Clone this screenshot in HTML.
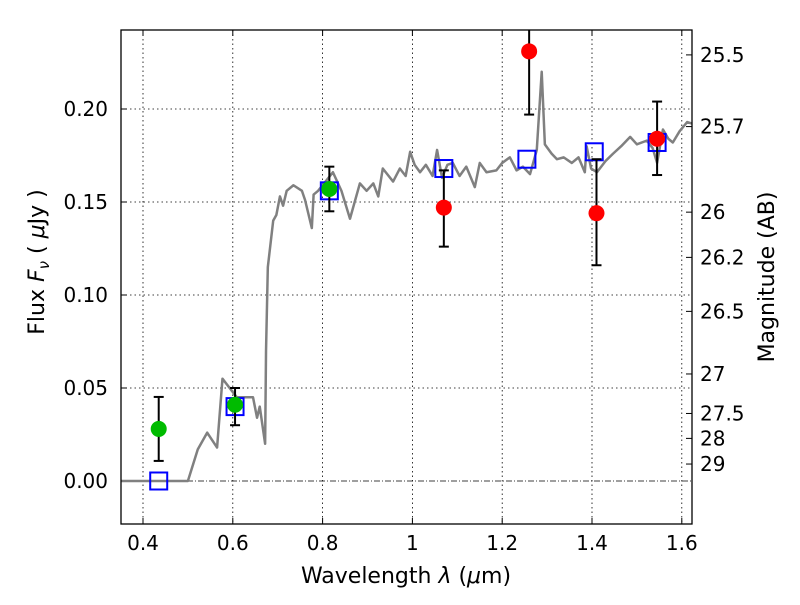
<!DOCTYPE html>
<html><head><meta charset="utf-8"><style>
body{margin:0;background:#fff}
svg text{font-family:"DejaVu Sans","Liberation Sans",sans-serif;fill:#000}
</style></head><body>
<svg id="c" width="800" height="600" xmlns="http://www.w3.org/2000/svg"></svg>
<script>
const specLam=[0.35,0.5,0.522,0.543,0.565,0.577,0.609,0.645,0.654,0.66,0.672,0.674,0.678,0.69,0.697,0.705,0.712,0.72,0.735,0.754,0.761,0.776,0.78,0.79,0.823,0.842,0.861,0.883,0.898,0.913,0.924,0.934,0.957,0.972,0.985,0.995,1.005,1.017,1.03,1.045,1.055,1.066,1.078,1.09,1.105,1.12,1.139,1.15,1.165,1.187,1.2,1.217,1.232,1.246,1.262,1.277,1.288,1.295,1.31,1.322,1.337,1.355,1.37,1.384,1.388,1.398,1.411,1.43,1.447,1.465,1.485,1.5,1.522,1.535,1.545,1.558,1.57,1.58,1.595,1.612,1.625];
const specFlux=[0,0,0.017,0.026,0.018,0.055,0.045,0.045,0.034,0.04,0.020,0.070,0.115,0.14,0.143,0.153,0.148,0.156,0.159,0.156,0.151,0.136,0.154,0.156,0.166,0.156,0.141,0.160,0.156,0.160,0.153,0.168,0.161,0.168,0.164,0.177,0.170,0.166,0.170,0.164,0.178,0.163,0.170,0.171,0.164,0.169,0.158,0.171,0.166,0.167,0.171,0.174,0.167,0.169,0.165,0.178,0.220,0.181,0.176,0.173,0.174,0.171,0.174,0.166,0.180,0.168,0.166,0.172,0.176,0.180,0.185,0.181,0.183,0.179,0.171,0.189,0.184,0.182,0.188,0.193,0.192];
const greenLam=[0.435,0.605,0.815], greenFlux=[0.028,0.041,0.157], greenLo=[0.0108,0.030,0.145], greenHi=[0.0452,0.050,0.169];
const redLam=[1.07,1.26,1.41,1.545], redFlux=[0.147,0.231,0.144,0.184], redLo=[0.126,0.197,0.116,0.1645], redHi=[0.167,0.27,0.173,0.204];
const boxLam=[0.435,0.605,0.815,1.07,1.255,1.405,1.545], boxFlux=[0,0.040,0.156,0.168,0.173,0.177,0.182];
const xTicks=[0.4,0.6,0.8,1.0,1.2,1.4,1.6], xLabels=["0.4","0.6","0.8","1","1.2","1.4","1.6"];
const yTicks=[0,0.05,0.10,0.15,0.20], yLabels=["0.00","0.05","0.10","0.15","0.20"];
const magTicks=[25.5,25.7,26,26.2,26.5,27,27.5,28,29], magLabels=["25.5","25.7","26","26.2","26.5","27","27.5","28","29"];
const L=121,R=692,T=30,B=524;
const X=v=>143+(v-0.4)*449, Y=v=>481-v*1860;
const svg=document.getElementById('c'), NS='http://www.w3.org/2000/svg';
function el(t,a,p){const e=document.createElementNS(NS,t);for(const k in a)e.setAttribute(k,a[k]);(p||svg).appendChild(e);return e;}
const clip=el('clipPath',{id:'cp'});el('rect',{x:L,y:T,width:R-L,height:B-T},clip);
const grid=el('g',{});


xTicks.forEach((t,i)=>{const x=X(t);
el('line',{x1:x,x2:x,y1:T,y2:B,stroke:'#000','stroke-dasharray':'1.5,3','stroke-width':0.8},grid);
el('line',{x1:x,x2:x,y1:B,y2:B-6,stroke:'#000'});el('line',{x1:x,x2:x,y1:T,y2:T+6,stroke:'#000'});
const tx=el('text',{x:x,y:B+26,'font-size':20,'text-anchor':'middle'});tx.textContent=xLabels[i];

});
yTicks.forEach((t,i)=>{const y=Y(t);
if(t>0)el('line',{x1:L,x2:R,y1:y,y2:y,stroke:'#000','stroke-dasharray':'1.5,3','stroke-width':0.8},grid);
el('line',{x1:L,x2:L+6,y1:y,y2:y,stroke:'#000'});
const tx=el('text',{x:L-13,y:y+7,'font-size':20,'text-anchor':'end'});tx.textContent=yLabels[i];

});
el('line',{x1:L,x2:R,y1:Y(0),y2:Y(0),stroke:'#000','stroke-dasharray':'6,2,1,2','stroke-width':0.8});
magTicks.forEach((m,i)=>{const y=Y(Math.pow(10,(23.9-m)/2.5));
el('line',{x1:R,x2:R-6,y1:y,y2:y,stroke:'#000'});
const tx=el('text',{x:R+8,y:y+7,'font-size':20});tx.textContent=magLabels[i];

});
const g=el('g',{'clip-path':'url(#cp)'});
const sp=el('polyline',{points:specLam.map((l,i)=>X(l)+','+Y(specFlux[i])).join(' '),fill:'none',stroke:'#808080','stroke-width':2.5,'stroke-linejoin':'round'},g);


boxLam.forEach((l,i)=>{const r=el('rect',{x:X(l)-8.5,y:Y(boxFlux[i])-8.5,width:17,height:17,fill:'none',stroke:'#0000ff','stroke-width':2},g);

});
function pts(lam,f,lo,hi,col,name){lam.forEach((l,i)=>{const x=X(l);
el('line',{x1:x,x2:x,y1:Y(lo[i]),y2:Y(hi[i]),stroke:'#000','stroke-width':2},g);
el('line',{x1:x-5,x2:x+5,y1:Y(lo[i]),y2:Y(lo[i]),stroke:'#000','stroke-width':2},g);
el('line',{x1:x-5,x2:x+5,y1:Y(hi[i]),y2:Y(hi[i]),stroke:'#000','stroke-width':2},g);
const c=el('circle',{cx:x,cy:Y(f[i]),r:8,fill:col},g);

});}
pts(greenLam,greenFlux,greenLo,greenHi,'#00bb00','green-point');
pts(redLam,redFlux,redLo,redHi,'#ff0000','red-point');
el('rect',{x:L,y:T,width:R-L,height:B-T,fill:'none',stroke:'#000','stroke-width':1.3});
const xt=el('text',{x:406,y:583,'font-size':22,'text-anchor':'middle'});
xt.innerHTML='Wavelength  <tspan font-style="italic">λ</tspan> (<tspan font-style="italic">μ</tspan>m)';


const yt=el('text',{x:0,y:0,'font-size':22,'text-anchor':'middle',transform:'translate(44,262) rotate(-90)'});
yt.innerHTML='Flux  <tspan font-style="italic">F</tspan><tspan font-style="italic" font-size="15" dy="5">ν</tspan><tspan dy="-5">  (  </tspan><tspan font-style="italic">μ</tspan>Jy )';


const rt=el('text',{x:0,y:0,'font-size':22,'text-anchor':'middle',transform:'translate(774,277) rotate(-90)'});
rt.textContent='Magnitude (AB)';


</script>
</body></html>
